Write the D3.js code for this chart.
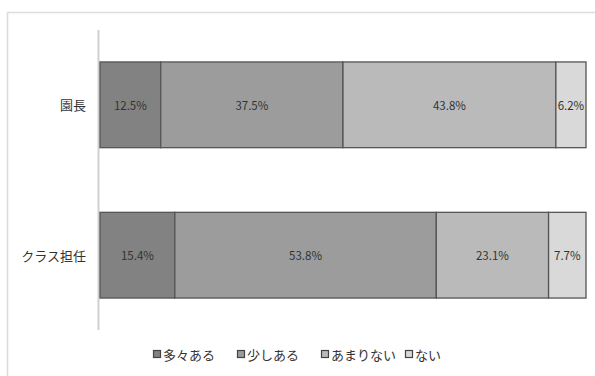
<!DOCTYPE html>
<html><head><meta charset="utf-8">
<script src="https://cdn.jsdelivr.net/npm/d3@7"></script>
<style>body{margin:0;background:#fff}svg{display:block}</style>
</head><body>
<svg id="c" width="595" height="376"></svg>
<script>
const categories = ["園長", "クラス担任"];
const seriesNames = ["多々ある", "少しある", "あまりない", "ない"];
const values = [
  [12.5, 37.5, 43.8, 6.2],
  [15.4, 53.8, 23.1, 7.7]
];
const colors = ["#828282", "#9c9c9c", "#bababa", "#d9d9d9"];

const svg = d3.select("#c");
const font = "'Noto Sans CJK JP', 'Noto Sans', sans-serif";

// outer frame
svg.append("rect").attr("x", 7.5).attr("y", 12.5).attr("width", 600).attr("height", 400)
  .attr("fill", "#fff").attr("stroke", "#dcdcdc").attr("stroke-width", 1.5);

const x = d3.scaleLinear().domain([0, 100]).range([100, 586]);
const y = d3.scaleBand().domain(categories).range([39.4, 320.6]).paddingInner(0.43).paddingOuter(0.15);

// axis line
svg.append("line").attr("x1", 98.5).attr("x2", 98.5).attr("y1", 30).attr("y2", 330)
  .attr("stroke", "#d0d0d0").attr("stroke-width", 2);

const stacked = values.map((row, i) => {
  let acc = 0;
  return row.map((v, j) => { const s = acc; acc += v; return {cat: categories[i], j, v, s, e: acc}; });
});

const g = svg.append("g");
stacked.forEach(row => {
  row.forEach(d => {
    g.append("rect")
      .attr("x", x(d.s)).attr("y", y(d.cat))
      .attr("width", x(d.e) - x(d.s)).attr("height", y.bandwidth())
      .attr("fill", colors[d.j]).attr("stroke", "#555").attr("stroke-width", 1.3);
    g.append("text")
      .attr("x", (x(d.s) + x(d.e)) / 2).attr("y", y(d.cat) + y.bandwidth() / 2)
      .attr("text-anchor", "middle").attr("dominant-baseline", "central")
      .attr("font-family", font).attr("font-size", 11.5).attr("fill", "#333")
      .text(d.v.toFixed(1) + "%");
  });
});

// category labels
categories.forEach(c => {
  svg.append("text").attr("x", 86).attr("y", y(c) + y.bandwidth() / 2)
    .attr("text-anchor", "end").attr("dominant-baseline", "central")
    .attr("font-family", font).attr("font-size", 13).attr("fill", "#333").text(c);
});

// legend
const legendX = [153, 237, 321, 405];
seriesNames.forEach((n, i) => {
  svg.append("rect").attr("x", legendX[i] + 0.5).attr("y", 350.5).attr("width", 7).attr("height", 7)
    .attr("fill", colors[i]).attr("stroke", "#444").attr("stroke-width", 1.2);
  svg.append("text").attr("x", legendX[i] + 10).attr("y", 354)
    .attr("dominant-baseline", "central")
    .attr("font-family", font).attr("font-size", 13).attr("fill", "#333").text(n);
});
</script>
</body></html>
